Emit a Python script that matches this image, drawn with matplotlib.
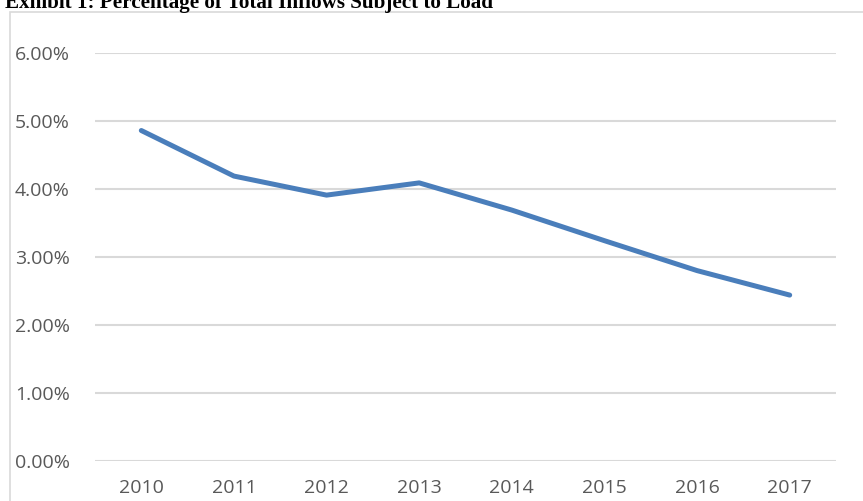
import matplotlib
matplotlib.use("Agg")
import matplotlib.pyplot as plt
from matplotlib.patches import Rectangle

years = ["2010", "2011", "2012", "2013", "2014", "2015", "2016", "2017"]
values = [4.86, 4.19, 3.91, 4.09, 3.69, 3.24, 2.80, 2.44]
yticks = [0, 1, 2, 3, 4, 5, 6]
ytick_labels = ["0.00%", "1.00%", "2.00%", "3.00%", "4.00%", "5.00%", "6.00%"]
title = "Exhibit 1: Percentage of Total Inflows Subject to Load"

W, H = 863, 501
fig = plt.figure(figsize=(W / 100, H / 100), dpi=100)

# chart frame
fig.patches.append(Rectangle((10 / W, -0.1), 1.2, (H - 11.5) / H + 0.1,
                             transform=fig.transFigure, fill=False,
                             edgecolor="#d9d9d9", linewidth=1.2))

ax = fig.add_axes([95 / W, (H - 461) / H, (836 - 95) / W, (461 - 53) / H])
x = list(range(len(years)))
ax.plot(x, values, color="#4a7ebb", linewidth=3.6, solid_capstyle="round",
        solid_joinstyle="round", zorder=3)
ax.set_xlim(-0.5, len(years) - 0.5)
ax.set_ylim(0, 6)
ax.set_yticks(yticks)
ax.set_yticklabels(ytick_labels)
ax.set_xticks(x)
ax.set_xticklabels(years)
ax.grid(axis="y", color="#d9d9d9", linewidth=1.5)
ax.set_axisbelow(True)
for s in ax.spines.values():
    s.set_visible(False)
ax.tick_params(length=0, colors="#595959", labelsize=14)
ax.tick_params(axis="x", pad=13)
ax.yaxis.set_tick_params(pad=0)
for lab in ax.get_yticklabels() + ax.get_xticklabels():
    lab.set_fontfamily("Open Sans")
for lab in ax.get_yticklabels():
    lab.set_horizontalalignment("left")
    lab.set_x(-80 / (836 - 95))

fig.text(5 / W, 1 - 8 / H, title, fontfamily="Liberation Serif",
         fontweight="bold", fontsize=15.2, ha="left", va="baseline", color="black")

fig.savefig("out.png", dpi=100)
